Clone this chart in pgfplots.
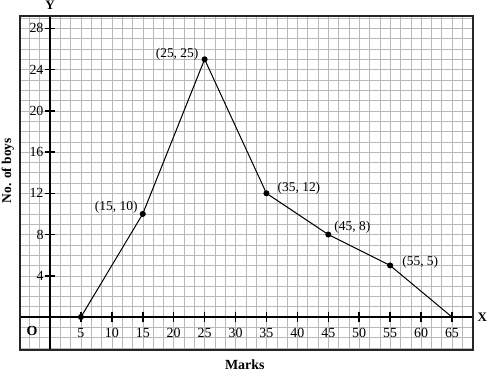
\documentclass[border=0pt]{standalone}
\usepackage{pgfplots}
\pgfplotsset{compat=1.18}
\usepackage{fontspec}
\setmainfont{Liberation Serif}
\begin{document}
\begin{tikzpicture}
\useasboundingbox (0,0) rectangle (489bp,377bp);
\begin{axis}[
  at={(20bp,27bp)}, anchor=south west,
  scale only axis, width=453bp, height=334bp,
  xmin=-4.85, xmax=68.4, ymin=-3.2, ymax=29.2,
  axis lines=middle,
  axis line style={-, line width=1.8pt, black},
  clip=false,
  xtick={5,10,...,65}, ytick={4,8,...,28},
  xticklabels={5,10,15,20,25,30,35,40,45,50,55,60,65},
  yticklabels={4,8,12,16,20,24,28},
  minor xtick={-3.33333,-1.66667,0,1.66667,3.33333,5,6.66667,8.33333,10,11.66667,13.33333,15,16.66667,18.33333,20,21.66667,23.33333,25,26.66667,28.33333,30,31.66667,33.33333,35,36.66667,38.33333,40,41.66667,43.33333,45,46.66667,48.33333,50,51.66667,53.33333,55,56.66667,58.33333,60,61.66667,63.33333,65,66.66667,68.33333},
  minor ytick={-3,-2,...,29},
  minor tick length=0pt,
  tick align=center, major tick length=10bp,
  major tick style={line width=1.5pt, black},
  grid=none, minor grid style={gray!55, line width=0.45pt},
  xminorgrids=true, yminorgrids=true,
  tick label style={font=\fontsize{14}{15}\selectfont},
  xticklabel style={yshift=-3bp},
  yticklabel style={xshift=2bp},
]
\draw[line width=1.3pt, black!85] (rel axis cs:0,0) rectangle (rel axis cs:1,1);
\addplot[black, line width=1pt, mark=*, mark size=2.5pt, mark indices={1,2,3,4,5,6}] coordinates {
  (5,0) (15,10) (25,25) (35,12) (45,8) (55,5) (65,0)
};
\tikzset{lab/.style={font=\fontsize{13.5}{14}\selectfont, inner sep=0pt}}
\node[lab, anchor=east] at (axis cs:25,25) [xshift=-6bp, yshift=5bp] {(25, 25)};
\node[lab, anchor=east] at (axis cs:15,10) [xshift=-5bp, yshift=7bp] {(15, 10)};
\node[lab, anchor=west] at (axis cs:35,12) [xshift=11bp, yshift=5bp] {(35, 12)};
\node[lab, anchor=west] at (axis cs:45,8) [xshift=6bp, yshift=7bp] {(45, 8)};
\node[lab, anchor=west] at (axis cs:55,5) [xshift=12bp, yshift=3bp] {(55, 5)};
\node[font=\fontsize{14}{15}\selectfont\bfseries] at (axis cs:-2.9,-1.4) {O};
\node[font=\fontsize{13}{14}\selectfont\bfseries] at (axis cs:0,30.2) {Y};
\node[font=\fontsize{13}{14}\selectfont\bfseries] at (axis cs:69.9,0) {X};
\node[font=\fontsize{14}{15}\selectfont\bfseries] at (axis cs:31.5,-4.65) {Marks};
\node[font=\fontsize{13.5}{15}\selectfont\bfseries, rotate=90] at (axis cs:-6.8,14.2) {No. of boys};
\end{axis}
\end{tikzpicture}
\end{document}
